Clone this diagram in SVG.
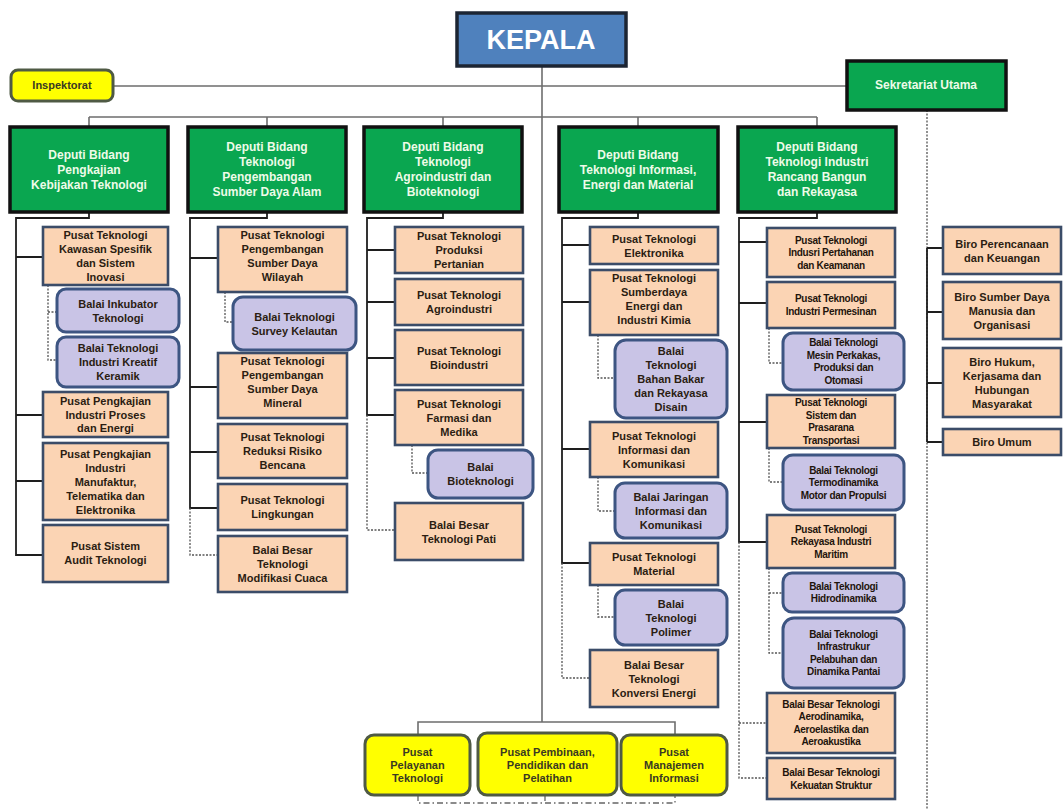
<svg xmlns="http://www.w3.org/2000/svg" width="1063" height="810" viewBox="0 0 1063 810">
<style>
.tan{fill:#fbd4b4;stroke:#3b4c68;stroke-width:2.6}
.lav{fill:#c9c4e6;stroke:#3d5582;stroke-width:3}
.grn{fill:#0aa650;stroke:#111;stroke-width:3.5}
.yel{fill:#ffff00;stroke:#4f5a44;stroke-width:3}
.kep{fill:#4f81bd;stroke:#1c2533;stroke-width:3.5}
.ln{stroke:#1e1e1e;stroke-width:1.8;fill:none}
.lg{stroke:#6e6e6e;stroke-width:1.6;fill:none}
.dot{stroke:#555;stroke-width:1.3;stroke-dasharray:2 1.5;fill:none}
.dd{stroke:#666;stroke-width:1.3;stroke-dasharray:6 3 1.5 3;fill:none}
text{font-family:"Liberation Sans",Arial,sans-serif;text-anchor:middle}
.t{font-size:11px;font-weight:bold;fill:#2b1d12}
.t5{font-size:10px;fill:#1f140c;font-weight:bold;letter-spacing:-0.3px}
.w{font-size:12px;font-weight:bold;fill:#eefbe8}
.y{font-size:11px;font-weight:bold;fill:#3a3a22}
</style>
<rect width="1063" height="810" fill="#fff"/>
<g id="connectors">
<path class="lg" d="M542 66 V722 M113 86 H846 M89 117 H817 M89 117 V127 M267 117 V127 M443 117 V127 M638 117 V127 M817 117 V127"/>
<path class="dot" d="M927 110 V810"/>
<path class="ln" d="M927 248 V442 M927 248 H943 M927 312 H943 M927 383 H943 M927 442 H943"/>
<path class="ln" d="M89 212 V218 H16 V555 H43 M16 257 H43 M16 415 H43 M16 481 H43"/>
<path class="dot" d="M48 285 V360 H57 M48 312 H57"/>
<path class="ln" d="M267 212 V218 H190 V508 H218 M190 258 H218 M190 387 H218 M190 452 H218"/>
<path class="dot" d="M190 508 V555 H218 M225 292 V322 H233"/>
<path class="ln" d="M443 212 V218 H367 V415 H395 M367 250 H395 M367 302 H395 M367 358 H395"/>
<path class="dot" d="M367 415 V530 H395 M412 445 V473 H428"/>
<path class="ln" d="M638 212 V218 H562 V563 H590 M562 245 H590 M562 302 H590 M562 449 H590"/>
<path class="dot" d="M562 563 V678 H590 M598 335 V378 H615 M598 477 V511 H615 M598 585 V617 H615"/>
<path class="ln" d="M817 212 V218 H739 V542 H767 M739 242 H767 M739 303 H767 M739 422 H767"/>
<path class="dot" d="M739 542 V778 H767 M739 723 H767 M769 328 V363 H783 M769 448 V482 H783 M769 568 V653 H783 M769 593 H783"/>
<path class="lg" d="M418 735 V722 H675 V735"/>
<path class="dd" d="M418 795 V803 H675 V795 M545 795 V803"/>
</g>
<g id="kepala"><rect class="kep" x="457" y="13" width="169" height="53"/><text x="541" y="49" style="font-size:27px;font-weight:bold;fill:#fff">KEPALA</text></g>
<g id="inspektorat"><rect class="yel" x="11" y="70" width="102" height="31" rx="7"/><text class="y" x="62" y="89">Inspektorat</text></g>
<g id="sekretariat"><rect class="grn" x="847" y="61" width="159" height="49"/><text class="w" x="926" y="89">Sekretariat Utama</text></g>

<g id="d1"><rect class="grn" x="10" y="127" width="158" height="85"/><text class="w"><tspan x="89" y="159">Deputi Bidang</tspan><tspan x="89" y="174">Pengkajian</tspan><tspan x="89" y="189">Kebijakan Teknologi</tspan></text></g>
<g id="d2"><rect class="grn" x="188" y="127" width="158" height="85"/><text class="w"><tspan x="267" y="151">Deputi Bidang</tspan><tspan x="267" y="166">Teknologi</tspan><tspan x="267" y="181">Pengembangan</tspan><tspan x="267" y="196">Sumber Daya Alam</tspan></text></g>
<g id="d3"><rect class="grn" x="364" y="127" width="158" height="85"/><text class="w"><tspan x="443" y="151">Deputi Bidang</tspan><tspan x="443" y="166">Teknologi</tspan><tspan x="443" y="181">Agroindustri dan</tspan><tspan x="443" y="196">Bioteknologi</tspan></text></g>
<g id="d4"><rect class="grn" x="559" y="127" width="159" height="85"/><text class="w"><tspan x="638" y="159">Deputi Bidang</tspan><tspan x="638" y="174">Teknologi Informasi,</tspan><tspan x="638" y="189">Energi dan Material</tspan></text></g>
<g id="d5"><rect class="grn" x="738" y="127" width="158" height="85"/><text class="w"><tspan x="817" y="151">Deputi Bidang</tspan><tspan x="817" y="166">Teknologi Industri</tspan><tspan x="817" y="181">Rancang Bangun</tspan><tspan x="817" y="196">dan Rekayasa</tspan></text></g>

<g id="c1a"><rect class="tan" x="43" y="227" width="125" height="58"/><text class="t"><tspan x="105.5" y="239">Pusat Teknologi</tspan><tspan x="105.5" y="253">Kawasan Spesifik</tspan><tspan x="105.5" y="267">dan Sistem</tspan><tspan x="105.5" y="281">Inovasi</tspan></text></g>
<g id="c1b"><rect class="lav" x="57" y="289" width="122" height="43" rx="9"/><text class="t"><tspan x="118" y="307.5">Balai Inkubator</tspan><tspan x="118" y="321.5">Teknologi</tspan></text></g>
<g id="c1c"><rect class="lav" x="57" y="337" width="122" height="50" rx="9"/><text class="t"><tspan x="118" y="352">Balai Teknologi</tspan><tspan x="118" y="366">Industri Kreatif</tspan><tspan x="118" y="380">Keramik</tspan></text></g>
<g id="c1d"><rect class="tan" x="43" y="392" width="125" height="45"/><text class="t"><tspan x="105.5" y="405">Pusat Pengkajian</tspan><tspan x="105.5" y="418.5">Industri Proses</tspan><tspan x="105.5" y="432">dan Energi</tspan></text></g>
<g id="c1e"><rect class="tan" x="43" y="443" width="125" height="77"/><text class="t"><tspan x="105.5" y="457.5">Pusat Pengkajian</tspan><tspan x="105.5" y="471.5">Industri</tspan><tspan x="105.5" y="485.5">Manufaktur,</tspan><tspan x="105.5" y="499.5">Telematika dan</tspan><tspan x="105.5" y="513.5">Elektronika</tspan></text></g>
<g id="c1f"><rect class="tan" x="43" y="525" width="125" height="57"/><text class="t"><tspan x="105.5" y="550">Pusat Sistem</tspan><tspan x="105.5" y="564">Audit Teknologi</tspan></text></g>

<g id="c2a"><rect class="tan" x="218" y="227" width="129" height="65"/><text class="t"><tspan x="282.5" y="238.5">Pusat Teknologi</tspan><tspan x="282.5" y="252.5">Pengembangan</tspan><tspan x="282.5" y="266.5">Sumber Daya</tspan><tspan x="282.5" y="280.5">Wilayah</tspan></text></g>
<g id="c2b"><rect class="lav" x="233" y="297" width="123" height="53" rx="10"/><text class="t"><tspan x="294.5" y="320.5">Balai Teknologi</tspan><tspan x="294.5" y="334.5">Survey Kelautan</tspan></text></g>
<g id="c2c"><rect class="tan" x="218" y="353" width="129" height="65"/><text class="t"><tspan x="282.5" y="364.5">Pusat Teknologi</tspan><tspan x="282.5" y="378.5">Pengembangan</tspan><tspan x="282.5" y="392.5">Sumber Daya</tspan><tspan x="282.5" y="406.5">Mineral</tspan></text></g>
<g id="c2d"><rect class="tan" x="218" y="424" width="129" height="54"/><text class="t"><tspan x="282.5" y="441">Pusat Teknologi</tspan><tspan x="282.5" y="455">Reduksi Risiko</tspan><tspan x="282.5" y="469">Bencana</tspan></text></g>
<g id="c2e"><rect class="tan" x="218" y="484" width="129" height="46"/><text class="t"><tspan x="282.5" y="504">Pusat Teknologi</tspan><tspan x="282.5" y="518">Lingkungan</tspan></text></g>
<g id="c2f"><rect class="tan" x="218" y="536" width="129" height="56"/><text class="t"><tspan x="282.5" y="554">Balai Besar</tspan><tspan x="282.5" y="568">Teknologi</tspan><tspan x="282.5" y="582">Modifikasi Cuaca</tspan></text></g>

<g id="c3a"><rect class="tan" x="395" y="227" width="128" height="46"/><text class="t"><tspan x="459" y="240">Pusat Teknologi</tspan><tspan x="459" y="254">Produksi</tspan><tspan x="459" y="268">Pertanian</tspan></text></g>
<g id="c3b"><rect class="tan" x="395" y="279" width="128" height="46"/><text class="t"><tspan x="459" y="299">Pusat Teknologi</tspan><tspan x="459" y="313">Agroindustri</tspan></text></g>
<g id="c3c"><rect class="tan" x="395" y="330" width="128" height="55"/><text class="t"><tspan x="459" y="354.5">Pusat Teknologi</tspan><tspan x="459" y="368.5">Bioindustri</tspan></text></g>
<g id="c3d"><rect class="tan" x="395" y="390" width="128" height="55"/><text class="t"><tspan x="459" y="407.5">Pusat Teknologi</tspan><tspan x="459" y="421.5">Farmasi dan</tspan><tspan x="459" y="435.5">Medika</tspan></text></g>
<g id="c3e"><rect class="lav" x="428" y="450" width="105" height="48" rx="10"/><text class="t"><tspan x="480.5" y="471">Balai</tspan><tspan x="480.5" y="485">Bioteknologi</tspan></text></g>
<g id="c3f"><rect class="tan" x="395" y="503" width="128" height="57"/><text class="t"><tspan x="459" y="528.5">Balai Besar</tspan><tspan x="459" y="542.5">Teknologi Pati</tspan></text></g>

<g id="c4a"><rect class="tan" x="590" y="227" width="128" height="37"/><text class="t"><tspan x="654" y="242.5">Pusat Teknologi</tspan><tspan x="654" y="256.5">Elektronika</tspan></text></g>
<g id="c4b"><rect class="tan" x="590" y="270" width="128" height="65"/><text class="t"><tspan x="654" y="281.5">Pusat Teknologi</tspan><tspan x="654" y="295.5">Sumberdaya</tspan><tspan x="654" y="309.5">Energi dan</tspan><tspan x="654" y="323.5">Industri Kimia</tspan></text></g>
<g id="c4c"><rect class="lav" x="615" y="340" width="112" height="78" rx="11"/><text class="t"><tspan x="671" y="355">Balai</tspan><tspan x="671" y="369">Teknologi</tspan><tspan x="671" y="383">Bahan Bakar</tspan><tspan x="671" y="397">dan Rekayasa</tspan><tspan x="671" y="411">Disain</tspan></text></g>
<g id="c4d"><rect class="tan" x="590" y="422" width="128" height="55"/><text class="t"><tspan x="654" y="439.5">Pusat Teknologi</tspan><tspan x="654" y="453.5">Informasi dan</tspan><tspan x="654" y="467.5">Komunikasi</tspan></text></g>
<g id="c4e"><rect class="lav" x="615" y="483" width="112" height="55" rx="10"/><text class="t"><tspan x="671" y="500.5">Balai Jaringan</tspan><tspan x="671" y="514.5">Informasi dan</tspan><tspan x="671" y="528.5">Komunikasi</tspan></text></g>
<g id="c4f"><rect class="tan" x="590" y="543" width="128" height="42"/><text class="t"><tspan x="654" y="561">Pusat Teknologi</tspan><tspan x="654" y="575">Material</tspan></text></g>
<g id="c4g"><rect class="lav" x="615" y="590" width="112" height="55" rx="10"/><text class="t"><tspan x="671" y="607.5">Balai</tspan><tspan x="671" y="621.5">Teknologi</tspan><tspan x="671" y="635.5">Polimer</tspan></text></g>
<g id="c4h"><rect class="tan" x="590" y="650" width="128" height="57"/><text class="t"><tspan x="654" y="668.5">Balai Besar</tspan><tspan x="654" y="682.5">Teknologi</tspan><tspan x="654" y="696.5">Konversi Energi</tspan></text></g>

<g id="c5a"><rect class="tan" x="767" y="228" width="128" height="49"/><text class="t5"><tspan x="831" y="243.6">Pusat Teknologi</tspan><tspan x="831" y="256.1">Indusri Pertahanan</tspan><tspan x="831" y="268.6">dan Keamanan</tspan></text></g>
<g id="c5b"><rect class="tan" x="767" y="282" width="128" height="46"/><text class="t5"><tspan x="831" y="302.4">Pusat Teknologi</tspan><tspan x="831" y="314.9">Industri Permesinan</tspan></text></g>
<g id="c5c"><rect class="lav" x="783" y="333" width="121" height="57" rx="10"/><text class="t5"><tspan x="843.5" y="346.4">Balai Teknologi</tspan><tspan x="843.5" y="358.9">Mesin Perkakas,</tspan><tspan x="843.5" y="371.4">Produksi dan</tspan><tspan x="843.5" y="383.9">Otomasi</tspan></text></g>
<g id="c5d"><rect class="tan" x="767" y="395" width="128" height="53"/><text class="t5"><tspan x="831" y="406.4">Pusat Teknologi</tspan><tspan x="831" y="418.9">Sistem dan</tspan><tspan x="831" y="431.4">Prasarana</tspan><tspan x="831" y="443.9">Transportasi</tspan></text></g>
<g id="c5e"><rect class="lav" x="783" y="455" width="121" height="55" rx="10"/><text class="t5"><tspan x="843.5" y="473.6">Balai Teknologi</tspan><tspan x="843.5" y="486.1">Termodinamika</tspan><tspan x="843.5" y="498.6">Motor dan Propulsi</tspan></text></g>
<g id="c5f"><rect class="tan" x="767" y="515" width="128" height="53"/><text class="t5"><tspan x="831" y="532.6">Pusat Teknologi</tspan><tspan x="831" y="545.1">Rekayasa Industri</tspan><tspan x="831" y="557.6">Maritim</tspan></text></g>
<g id="c5g"><rect class="lav" x="783" y="573" width="121" height="39" rx="9"/><text class="t5"><tspan x="843.5" y="589.9">Balai Teknologi</tspan><tspan x="843.5" y="602.4">Hidrodinamika</tspan></text></g>
<g id="c5h"><rect class="lav" x="783" y="618" width="121" height="70" rx="11"/><text class="t5"><tspan x="843.5" y="637.9">Balai Teknologi</tspan><tspan x="843.5" y="650.4">Infrastrukur</tspan><tspan x="843.5" y="662.9">Pelabuhan dan</tspan><tspan x="843.5" y="675.4">Dinamika Pantai</tspan></text></g>
<g id="c5i"><rect class="tan" x="767" y="693" width="128" height="60"/><text class="t5"><tspan x="831" y="707.9">Balai Besar Teknologi</tspan><tspan x="831" y="720.4">Aerodinamika,</tspan><tspan x="831" y="732.9">Aeroelastika dan</tspan><tspan x="831" y="745.4">Aeroakustika</tspan></text></g>
<g id="c5j"><rect class="tan" x="767" y="758" width="128" height="41"/><text class="t5"><tspan x="831" y="776">Balai Besar Teknologi</tspan><tspan x="831" y="788.5">Kekuatan Struktur</tspan></text></g>

<g id="b1"><rect class="tan" x="943" y="227" width="118" height="47"/><text class="t"><tspan x="1002" y="247.5">Biro Perencanaan</tspan><tspan x="1002" y="261.5">dan Keuangan</tspan></text></g>
<g id="b2"><rect class="tan" x="943" y="282" width="118" height="57"/><text class="t"><tspan x="1002" y="300.5">Biro Sumber Daya</tspan><tspan x="1002" y="314.5">Manusia dan</tspan><tspan x="1002" y="328.5">Organisasi</tspan></text></g>
<g id="b3"><rect class="tan" x="943" y="348" width="118" height="69"/><text class="t"><tspan x="1002" y="365.5">Biro Hukum,</tspan><tspan x="1002" y="379.5">Kerjasama dan</tspan><tspan x="1002" y="393.5">Hubungan</tspan><tspan x="1002" y="407.5">Masyarakat</tspan></text></g>
<g id="b4"><rect class="tan" x="943" y="429" width="118" height="26"/><text class="t" x="1002" y="446">Biro Umum</text></g>

<g id="p1"><rect class="yel" x="365" y="735" width="105" height="60" rx="9"/><text class="y"><tspan x="417.5" y="756">Pusat</tspan><tspan x="417.5" y="769">Pelayanan</tspan><tspan x="417.5" y="782">Teknologi</tspan></text></g>
<g id="p2"><rect class="yel" x="478" y="733" width="139" height="62" rx="9"/><text class="y"><tspan x="547.5" y="756">Pusat Pembinaan,</tspan><tspan x="547.5" y="769">Pendidikan dan</tspan><tspan x="547.5" y="782">Pelatihan</tspan></text></g>
<g id="p3"><rect class="yel" x="621" y="735" width="106" height="60" rx="9"/><text class="y"><tspan x="674" y="756">Pusat</tspan><tspan x="674" y="769">Manajemen</tspan><tspan x="674" y="782">Informasi</tspan></text></g>
</svg>
